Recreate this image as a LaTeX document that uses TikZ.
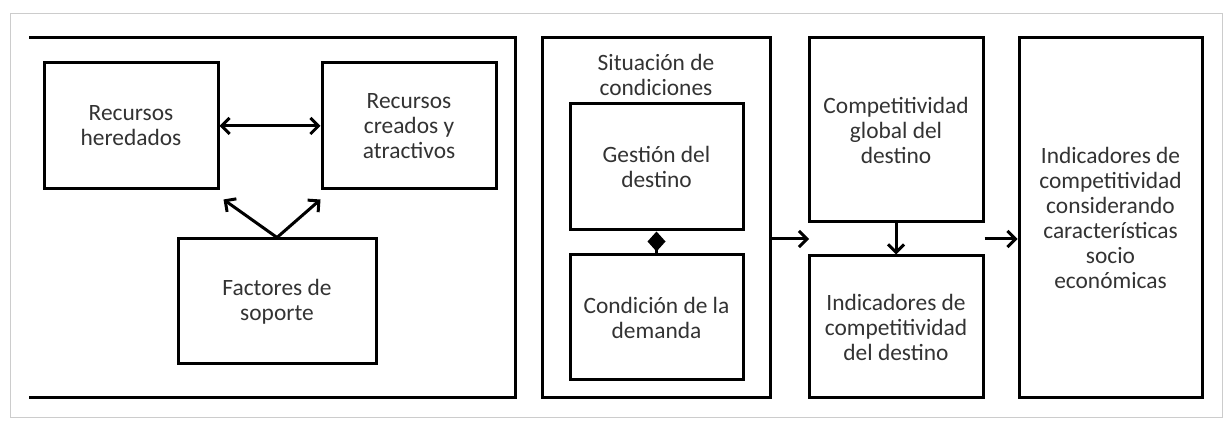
\documentclass[tikz,border=0pt]{standalone}
\usepackage{fontspec}
\setmainfont{Carlito}
\usetikzlibrary{arrows.meta}

\begin{document}
\begin{tikzpicture}[x=0.5pt,y=-0.5pt,line width=1.5pt,
  >={Straight Barb[length=4pt,width=8pt]},
  txt/.style={align=center,text=black!80,font=\fontsize{11.7}{12.5}\selectfont,inner sep=0pt},
  box/.style={txt,draw}]
\useasboundingbox (0,0) rectangle (1226,421);
\fill[white] (0,0) rectangle (1226,421);
\draw[line width=0.5pt,gray!40] (10,14) rectangle (1222,418);

\draw (29,38) -- (515,38) -- (515,398) -- (29,398);

\node [box,minimum width=87pt,minimum height=63pt] (herd) at (131,126) {Recursos\\heredados};
\node [box,minimum width=87pt,minimum height=63pt] (cread) at (409,126) {Recursos\\creados y\\atractivos};
\node [box,minimum width=99pt,minimum height=62.5pt] (fact) at (277,301.5) {Factores de\\soporte};

\draw[<->] (herd) -- (cread);
\draw[->] (fact.north) -- ([shift={(4,9)}]herd.south east);
\draw[->] (fact.north) -- ([shift={(0,9)}]cread.south west);

\node [box,minimum width=114pt,minimum height=180pt] (sit) at (656,218) {};
\node [txt] (sittitle) at (656,75) {Situación de\\condiciones};
\node [box,minimum width=86.5pt,minimum height=63pt] (gest) at (656.5,167) {Gestión del\\destino};
\node [box,minimum width=86.5pt,minimum height=62.5pt] (cond) at (656.5,317.5) {Condición de la\\demanda};

\draw[{Diamond[length=10pt,width=9pt]}-] (gest) -- (cond);

\node [box,minimum width=87pt,minimum height=92pt] (comp) at (896,130) {Competitividad\\global del\\destino};
\node [box,minimum width=87pt,minimum height=71pt] (inddest) at (896,327) {Indicadores de\\competitividad\\del destino};
\node [box,minimum width=91.5pt,minimum height=180pt] (indsoc) at (1110.5,218) {Indicadores de\\competitividad\\considerando\\características\\socio\\económicas};

\coordinate (gap) at (809,239);
\draw[->] (sit.east |- gap) -- (gap);
\draw[->] (comp) -- (inddest);
\draw[->] (comp.east |- gap) -- (indsoc.west |- gap);

\end{tikzpicture}
\end{document}
